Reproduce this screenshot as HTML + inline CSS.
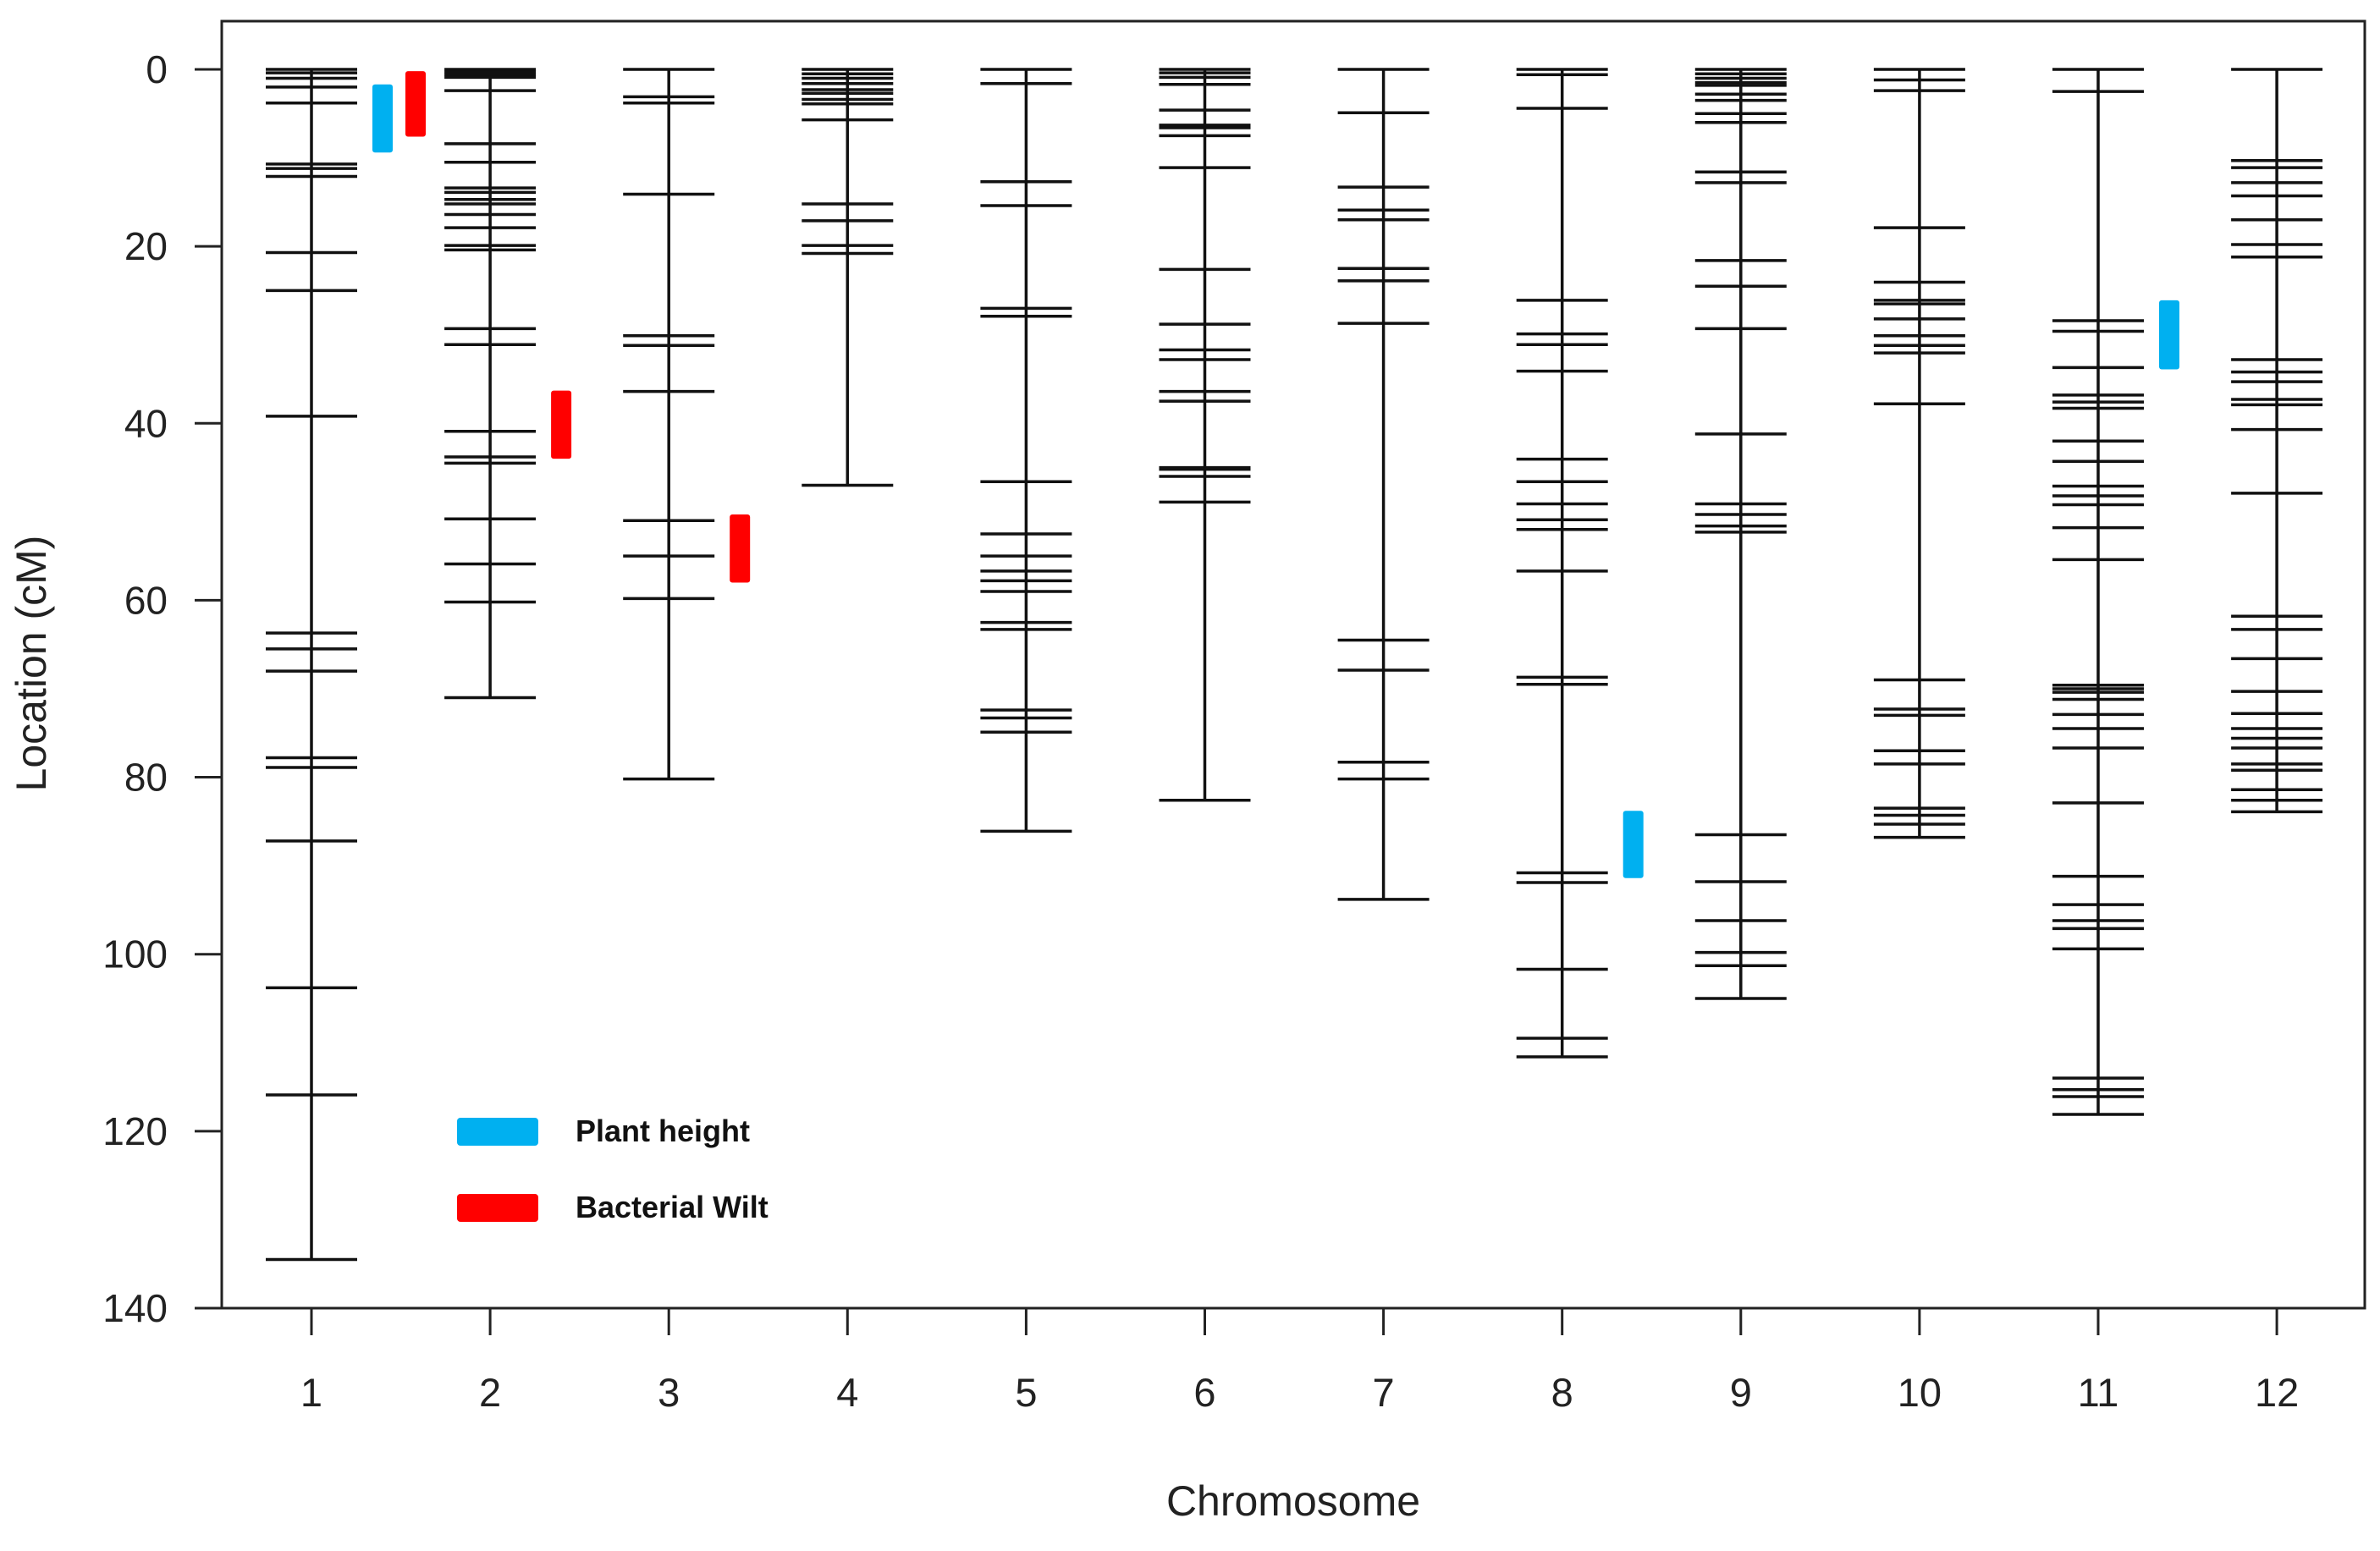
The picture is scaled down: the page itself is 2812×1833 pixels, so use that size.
<!DOCTYPE html>
<html><head><meta charset="utf-8"><style>
body{margin:0;background:#fff;}
svg{display:block;font-family:"Liberation Sans",Arial,sans-serif;}
</style></head><body>
<svg id="chart" width="2812" height="1833" viewBox="0 0 2812 1833" xmlns="http://www.w3.org/2000/svg">
<rect x="0" y="0" width="2812" height="1833" fill="#fff"/>
<g id="marks"></g>
<rect x="262" y="25" width="2532" height="1521" fill="none" stroke="#222" stroke-width="3"/>
<g id="axes"></g>
<text x="1528" y="1791" font-size="50" text-anchor="middle" fill="#222">Chromosome</text>
<text x="0" y="0" font-size="50" text-anchor="middle" fill="#222" transform="translate(54,784) rotate(-90)">Location (cM)</text>
<g>
<rect x="540" y="1321" width="96" height="33" rx="4" fill="#00b0f0"/>
<text x="680" y="1349" font-size="36" font-weight="bold" fill="#111">Plant height</text>
<rect x="540" y="1411" width="96" height="33" rx="4" fill="#ff0000"/>
<text x="680" y="1439" font-size="36" font-weight="bold" fill="#111">Bacterial Wilt</text>
</g>
</svg>
<script>
const chromosomes = ["1","2","3","4","5","6","7","8","9","10","11","12"];
const chrLengths = [134.5,71,80.2,47,86.1,82.6,93.8,111.6,105,86.8,118.1,83.9];
const m1 = [0,0.4,1,2,3.8,10.7,11.2,12.1,20.7,25,39.2,63.7,65.5,68,77.8,78.9,87.2,103.8,115.9,134.5];
const m2 = [0,0.3,0.6,0.9,2.4,8.4,10.5,13.4,13.9,14.7,15.2,16.4,17.9,19.9,20.4,29.3,31.1,40.9,43.8,44.5,50.8,55.9,60.2,71];
const m3 = [0,3.1,3.8,14.1,30.1,31.2,36.4,51,55,59.8,80.2];
const m4 = [0,0.5,1,1.6,2.3,2.7,3.4,3.9,5.7,15.2,17.1,19.9,20.8,47];
const m5 = [0,1.6,12.7,15.4,27,27.9,46.6,52.5,55,56.7,57.8,59,62.5,63.3,72.4,73.3,74.9,86.1];
const m6 = [0,0.4,0.9,1.7,4.6,6.3,6.6,7.5,11.1,22.6,28.8,31.7,32.8,36.4,37.5,45,45.2,46,48.9,82.6];
const m7 = [0,4.9,13.3,15.9,17,22.5,23.9,28.7,64.5,67.9,78.3,80.2,93.8];
const m8 = [0,0.6,4.4,26.1,29.9,31.1,34.1,44.05,46.6,49.1,50.9,52,56.7,68.7,69.5,90.8,91.9,101.7,109.5,111.6];
const m9 = [0,0.5,1,1.5,1.8,2.8,3.5,5,6,11.6,12.8,21.6,24.5,29.3,41.2,49.1,50.3,51.6,52.3,86.5,91.8,96.2,99.8,101.3,105];
const m10 = [0,1.2,2.4,17.9,24.05,26.1,26.5,28.2,30.1,31.2,32.05,37.8,69,72.3,73,77,78.5,83.5,84.3,85.3,86.8];
const m11 = [0,2.5,28.4,29.6,33.7,36.8,37.6,38.3,42,44.3,47.1,48.2,49.2,51.8,55.4,69.6,70,70.4,71.2,72.9,74.5,76.7,82.9,91.2,94.4,96.2,97.1,99.4,114,115.3,116.1,118.1];
const m12 = [0,10.3,11.1,12.8,14.3,17,19.8,21.2,32.8,34.2,35.3,37.3,37.9,40.7,47.9,61.8,63.3,66.6,70.3,72.8,74.5,75.6,76.7,78.5,79.2,81.4,82.6,83.9];
const markers = [m1,m2,m3,m4,m5,m6,m7,m8,m9,m10,m11,m12];
const qtlTraits = ["Plant height","Bacterial Wilt","Bacterial Wilt","Bacterial Wilt","Plant height","Plant height"];
const qtlChr = [1,1,2,3,8,11];
const qtlStart = [1.7,0.2,36.3,50.3,83.8,26.1];
const qtlEnd = [9.4,7.6,44,58,91.4,33.9];
const qtlSlot = [0,1,0,0,0,0];
const yTicks = [0,20,40,60,80,100,120,140];

const NS="http://www.w3.org/2000/svg";
const y = v => 82 + v*10.457;
const x = i => 368 + i*211.1;
const marks=document.getElementById('marks'), axes=document.getElementById('axes');
function mk(tag, attrs, parent){const e=document.createElementNS(NS,tag);for(const k in attrs)e.setAttribute(k,attrs[k]);parent.appendChild(e);return e;}

chromosomes.forEach((c,i)=>{
  const g=mk('g',{},marks);
  
  
  const ln=mk('line',{x1:x(i),x2:x(i),y1:y(0),y2:y(chrLengths[i]),stroke:'#111','stroke-width':3.5},g);
  
  
  markers[i].forEach(v=>{
    const t=mk('line',{x1:x(i)-54,x2:x(i)+54,y1:y(v),y2:y(v),stroke:'#111','stroke-width':3.5},g);
    
    
  });
  const tk=mk('line',{x1:x(i),x2:x(i),y1:1546,y2:1578,stroke:'#222','stroke-width':3},axes);
  
  
  const tl=mk('text',{x:x(i),y:1662,'font-size':47,'text-anchor':'middle',fill:'#222'},axes);
  tl.textContent=c;
  
  
});
qtlChr.forEach((c,k)=>{
  const cx = x(c-1) + (qtlSlot[k] ? 123 : 84);
  const r=mk('rect',{x:cx-12,y:y(qtlStart[k]),width:24,height:y(qtlEnd[k])-y(qtlStart[k]),rx:3,fill:qtlTraits[k]==="Plant height"?'#00b0f0':'#ff0000'},marks);
  
  
});
yTicks.forEach(v=>{
  const tk=mk('line',{x1:230,x2:262,y1:y(v),y2:y(v),stroke:'#222','stroke-width':3},axes);
  
  
  const tl=mk('text',{x:198,y:y(v)+16,'font-size':46,'text-anchor':'end',fill:'#222'},axes);
  tl.textContent=v;
  
  
});
</script>
</body></html>
